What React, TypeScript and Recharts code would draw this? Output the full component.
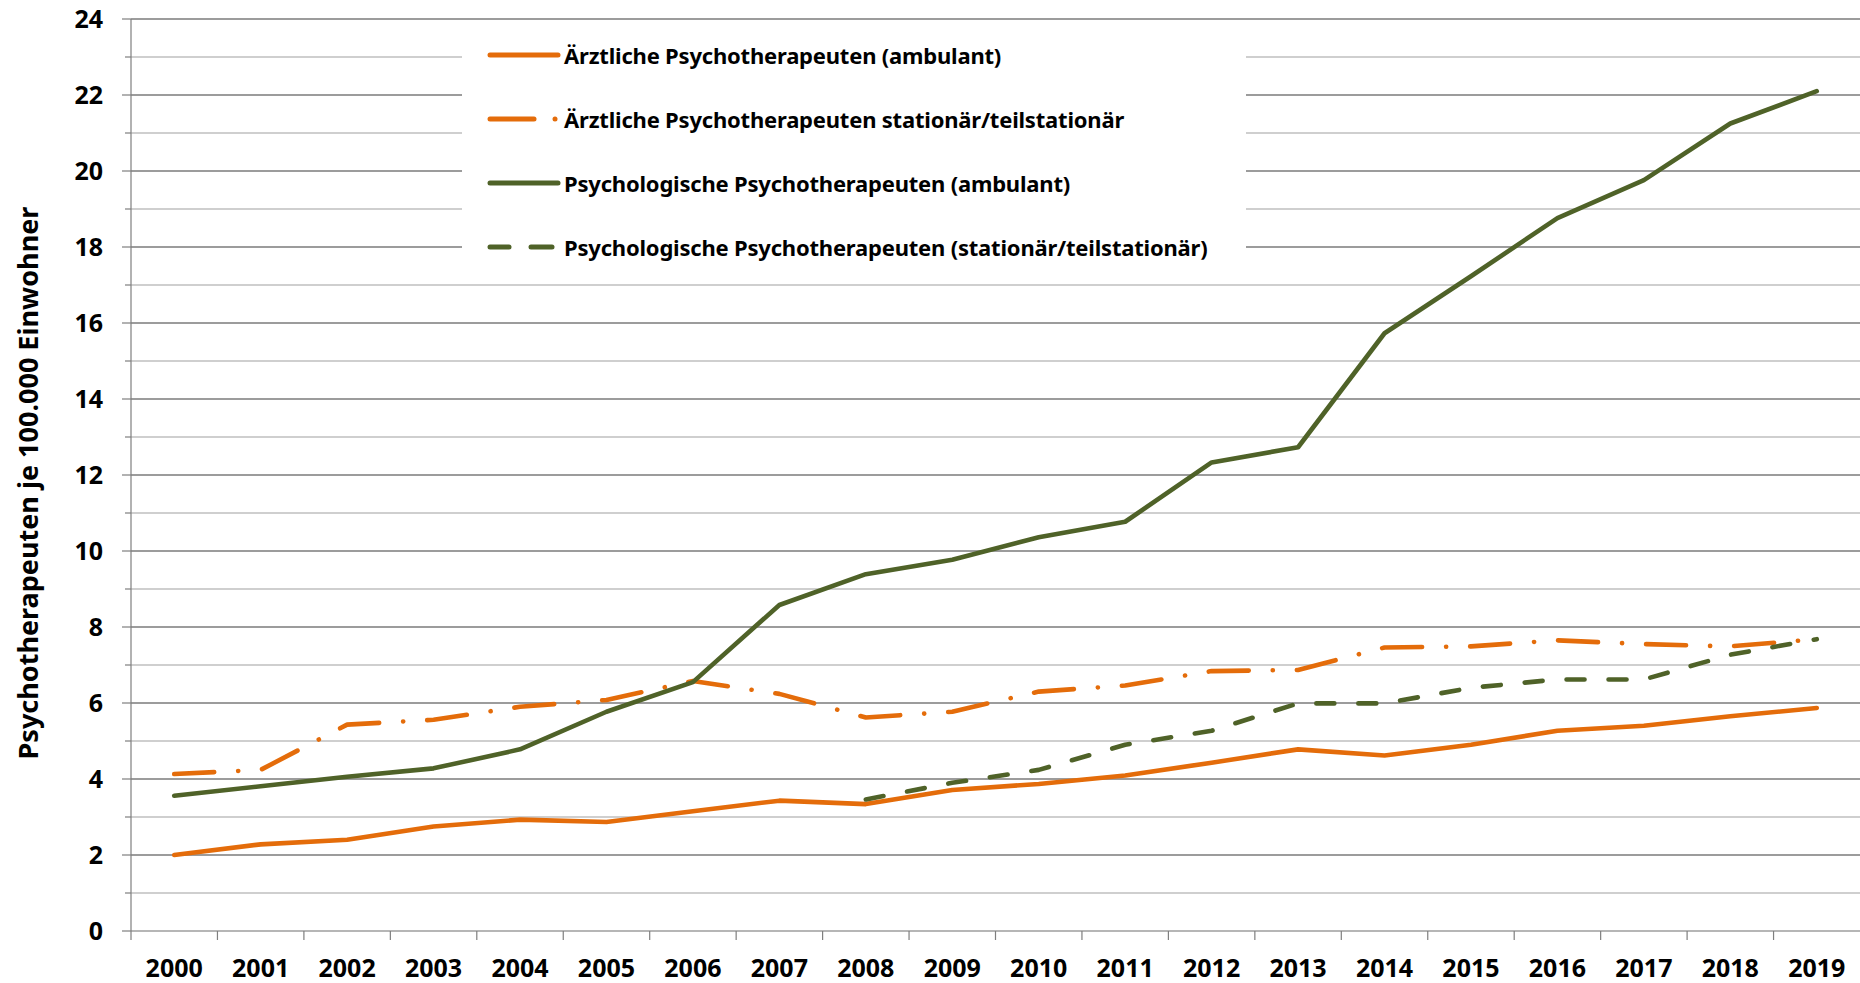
import React from "react";
import {
  LineChart,
  Line,
  XAxis,
  YAxis,
  Legend,
  ReferenceLine,
} from "recharts";

// --- data ---
const years = [
  "2000", "2001", "2002", "2003", "2004", "2005", "2006", "2007", "2008", "2009",
  "2010", "2011", "2012", "2013", "2014", "2015", "2016", "2017", "2018", "2019",
];

const aerztlichAmbulant = [
  2.0, 2.28, 2.4, 2.75, 2.93, 2.87, 3.15, 3.43, 3.34, 3.71,
  3.87, 4.09, 4.43, 4.78, 4.62, 4.9, 5.27, 5.4, 5.65, 5.87,
];

const aerztlichStationaer = [
  4.13, 4.24, 5.43, 5.56, 5.9, 6.08, 6.58, 6.24, 5.62, 5.77,
  6.3, 6.46, 6.84, 6.87, 7.46, 7.49, 7.65, 7.55, 7.49, 7.68,
];

const psychAmbulant = [
  3.56, 3.81, 4.06, 4.28, 4.78, 5.77, 6.55, 8.58, 9.39, 9.77,
  10.36, 10.77, 12.33, 12.73, 15.73, 17.23, 18.76, 19.76, 21.25, 22.1,
];

const psychStationaer = [
  null, null, null, null, null, null, null, null, 3.46, 3.9,
  4.24, 4.9, 5.27, 5.99, 5.99, 6.4, 6.62, 6.62, 7.27, 7.68,
];

const majorTicks = [0, 2, 4, 6, 8, 10, 12, 14, 16, 18, 20, 22, 24];
const minorTicks = [1, 3, 5, 7, 9, 11, 13, 15, 17, 19, 21, 23];
const allTicks = [0, 1, 2, 3, 4, 5, 6, 7, 8, 9, 10, 11, 12, 13, 14, 15, 16, 17, 18, 19, 20, 21, 22, 23, 24];

const yLabel = "Psychotherapeuten je 100.000 Einwohner";

const ORANGE = "#E46C0A";
const GREEN = "#4F6228";

const series = [
  { key: "aa", name: "Ärztliche Psychotherapeuten (ambulant)", color: ORANGE, dash: undefined },
  { key: "as", name: "Ärztliche Psychotherapeuten stationär/teilstationär", color: ORANGE, dash: "40 24 0.1 24" },
  { key: "pa", name: "Psychologische Psychotherapeuten (ambulant)", color: GREEN, dash: undefined },
  { key: "ps", name: "Psychologische Psychotherapeuten (stationär/teilstationär)", color: GREEN, dash: "18 24" },
];

const data = years.map((year, i) => ({
  year,
  aa: aerztlichAmbulant[i],
  as: aerztlichStationaer[i],
  pa: psychAmbulant[i],
  ps: psychStationaer[i],
}));

const W = 1860;
const H = 983;
const Y_AXIS_W = 131;
const X_AXIS_H = 52;
const TOP = 19;
const BAND = (W - Y_AXIS_W) / years.length;
const FONT = "'Noto Sans', sans-serif";

function YTick(props: any) {
  const { x, y, payload } = props;
  const major = payload.value % 2 === 0;
  return (
    <g>
      <line x1={x - (major ? 9 : 6)} x2={x} y1={y} y2={y} stroke="#7f7f7f" strokeWidth={1.2} />
      {major && (
        <text x={x - 28} y={y + 9} textAnchor="end" fontSize={25} fontWeight={700} fill="#000" fontFamily={FONT}>
          {payload.value}
        </text>
      )}
    </g>
  );
}

function XTick(props: any) {
  const { x, y, payload } = props;
  return (
    <g>
      <line x1={x - BAND / 2} x2={x - BAND / 2} y1={y} y2={y + 9} stroke="#7f7f7f" strokeWidth={1.2} />
      <text x={x} y={y + 46} textAnchor="middle" fontSize={25} fontWeight={700} fill="#000" fontFamily={FONT}>
        {payload.value}
      </text>
    </g>
  );
}

function LegendBox() {
  return (
    <div style={{ background: "#fff", width: 784, height: 242, position: "relative", fontFamily: FONT }}>
      {series.map((s, i) => (
        <div
          key={s.key}
          style={{
            position: "absolute",
            left: 24,
            top: 33 + i * 64 - 15,
            height: 30,
            display: "flex",
            alignItems: "center",
            whiteSpace: "nowrap",
          }}
        >
          <svg width={78} height={10} style={{ display: "block" }}>
            {s.key === "as" ? (
              <>
                <line x1={4} x2={48} y1={5} y2={5} stroke={s.color} strokeWidth={5} strokeLinecap="round" />
                <circle cx={69} cy={5} r={2.5} fill={s.color} />
              </>
            ) : s.key === "ps" ? (
              <>
                <line x1={4} x2={23} y1={5} y2={5} stroke={s.color} strokeWidth={5} strokeLinecap="round" />
                <line x1={45} x2={66} y1={5} y2={5} stroke={s.color} strokeWidth={5} strokeLinecap="round" />
              </>
            ) : (
              <line x1={4} x2={72} y1={5} y2={5} stroke={s.color} strokeWidth={5} strokeLinecap="round" />
            )}
          </svg>
          <span style={{ fontSize: 22, fontWeight: 700, color: "#000", marginLeft: 0, letterSpacing: -0.2 }}>
            {s.name}
          </span>
        </div>
      ))}
    </div>
  );
}

export default function App() {
  return (
    <div style={{ position: "absolute", left: 0, top: 0, width: W, height: H, background: "#fff" }}>
      <LineChart
        width={W}
        height={H}
        data={data}
        margin={{ top: TOP, right: 0, bottom: 0, left: 0 }}
        style={{ fontFamily: FONT }}
      >
        <XAxis
          dataKey="year"
          scale="band"
          interval={0}
          height={X_AXIS_H}
          tickLine={false}
          tickSize={0}
          tickMargin={0}
          tick={<XTick />}
          axisLine={{ stroke: "#6e6e6e", strokeWidth: 1.2 }}
        />
        <YAxis
          width={Y_AXIS_W}
          domain={[0, 24]}
          ticks={allTicks}
          interval={0}
          tickLine={false}
          tickSize={0}
          tickMargin={0}
          tick={<YTick />}
          axisLine={{ stroke: "#7f7f7f", strokeWidth: 1.2 }}
          label={{
            content: (p: any) => {
              const vb = p.viewBox;
              const cx = 27;
              const cy = vb.y + vb.height / 2 + 8;
              return (
                <text
                  x={cx}
                  y={cy}
                  transform={`rotate(-90 ${cx} ${cy})`}
                  textAnchor="middle"
                  dominantBaseline="central"
                  fontSize={27}
                  fontWeight={700}
                  fill="#000"
                  fontFamily={FONT}
                >
                  {yLabel}
                </text>
              );
            },
          }}
        />
        {minorTicks.map((v) => (
          <ReferenceLine key={"mi" + v} y={v} stroke="#bfbfbf" strokeWidth={1.5} />
        ))}
        {majorTicks.filter((v) => v > 0).map((v) => (
          <ReferenceLine key={"ma" + v} y={v} stroke="#3a3a3a" strokeWidth={1.1} />
        ))}
        <Legend
          layout="vertical"
          align="center"
          verticalAlign="middle"
          content={() => <LegendBox />}
          wrapperStyle={{ left: 462, top: 22, width: 784, height: 242 }}
        />
        {series.map((s) => (
          <Line
            key={s.key}
            dataKey={s.key}
            name={s.name}
            stroke={s.color}
            strokeWidth={4.6}
            strokeDasharray={s.dash}
            strokeLinecap="round"
            strokeLinejoin="round"
            dot={false}
            activeDot={false}
            connectNulls={false}
            isAnimationActive={false}
          />
        ))}
      </LineChart>
    </div>
  );
}
